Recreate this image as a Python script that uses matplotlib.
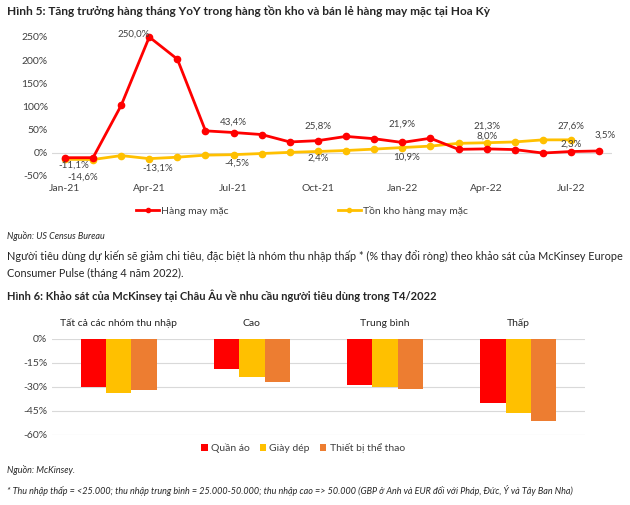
import numpy as np
import matplotlib
matplotlib.use("Agg")
from matplotlib import pyplot as plt
from matplotlib.lines import Line2D

plt.rcParams['font.family'] = ['Lato', 'DejaVu Sans']

# Hình 5 data
months = ["Jan-21", "Feb-21", "Mar-21", "Apr-21", "May-21", "Jun-21", "Jul-21",
          "Aug-21", "Sep-21", "Oct-21", "Nov-21", "Dec-21", "Jan-22", "Feb-22",
          "Mar-22", "Apr-22", "May-22", "Jun-22", "Jul-22", "Aug-22"]
apparel = [-11.1, -11, 102, 250.0, 202, 47, 43.4, 39, 23, 25.8, 35, 30,
           21.9, 31, 7, 8.0, 6.5, -1, 2.3, 3.5]
inventory = [-14.6, -15, -6.5, -13.1, -10, -5.5, -4.5, -2, 0.5, 2.4, 4.5, 7.5,
             10.9, 14, 20, 21.3, 23, 27.5, 27.6, np.nan]
apparel_labeled = [0, 3, 6, 9, 12, 15, 18, 19]
inventory_labeled = [0, 3, 6, 9, 12, 15, 18]

# Hình 6 data
groups = ["Tất cả các nhóm thu nhập", "Cao", "Trung bình", "Thấp"]
clothes = [-30, -19, -29, -40]
shoes = [-34, -24, -30, -46]
sports = [-32, -27, -31, -51]

W, H = 630, 505
fig = plt.figure(figsize=(6.3, 5.05), dpi=100)


def rect(x0, y0, x1, y1):
    return [x0 / W, 1 - y1 / H, (x1 - x0) / W, (y1 - y0) / H]


def fmt(v):
    return ("%.1f%%" % v).replace(".", ",")


txt = "#262626"
lab = "#404040"

fig.text(7 / W, 1 - 11 / H, "Hình 5: Tăng trưởng hàng tháng YoY trong hàng tồn kho và bán lẻ hàng may mặc tại Hoa Kỳ",
         fontsize=8.6, fontweight="bold", color=txt, va="center")

# line chart
ax = fig.add_axes(rect(52, 37, 612, 175.7))
x = np.arange(len(months))
ax.axhline(0, color="#d9d9d9", lw=0.8, zorder=0)
ax.plot(x, inventory, color="#FFC000", lw=2, marker="o", ms=4.5, clip_on=False, zorder=3)
ax.plot(x, apparel, color="#FF0000", lw=2, marker="o", ms=4.5, clip_on=False, zorder=4)
ax.set_xlim(-0.46, 19.46)
ax.set_ylim(-50, 250)
ax.set_yticks(range(-50, 251, 50))
ax.set_yticklabels(["%d%%" % v for v in range(-50, 251, 50)])
ax.set_xticks(x[::3])
ax.set_xticklabels(months[::3])
ax.tick_params(length=0, labelsize=7.5, labelcolor=lab, pad=3)
ax.tick_params(axis="x", pad=6)
for s in ax.spines.values():
    s.set_visible(False)

red_off = [(9, -7), (-16, 3), (0, 10), (0, 14), (0, 18), (0, 13), (0, 7), (6, 16)]
yel_off = [(18, -18), (8, -10), (3, -9), (0, -7), (4, -10), (0, 17), (0, 14)]
for i, (dx, dy) in zip(apparel_labeled, red_off):
    ax.annotate(fmt(apparel[i]), (x[i], apparel[i]), xytext=(dx, dy),
                textcoords="offset pixels", ha="center", va="center",
                fontsize=7, color=lab, zorder=5)
for i, (dx, dy) in zip(inventory_labeled, yel_off):
    ax.annotate(fmt(inventory[i]), (x[i], inventory[i]), xytext=(dx, dy),
                textcoords="offset pixels", ha="center", va="center",
                fontsize=7, color=lab, zorder=5)

handles = [Line2D([], [], color="#FF0000", lw=2, marker="o", ms=3),
           Line2D([], [], color="#FFC000", lw=2, marker="o", ms=3)]
fig.legend(handles, ["Hàng may mặc", "Tồn kho hàng may mặc"], loc="center",
           bbox_to_anchor=(302 / W, 1 - 211 / H), ncol=2, frameon=False,
           fontsize=7.5, handlelength=2.2, handletextpad=0.2, columnspacing=10.5,
           labelcolor=lab)

fig.text(7 / W, 1 - 236 / H, "Nguồn: US Census Bureau", fontsize=6.5,
         style="italic", color=txt, va="center")
fig.text(7 / W, 1 - 256 / H,
         "Người tiêu dùng dự kiến sẽ giảm chi tiêu, đặc biệt là nhóm thu nhập thấp * (% thay đổi ròng) theo khảo sát của McKinsey Europe",
         fontsize=7.8, color=txt, va="center")
fig.text(7 / W, 1 - 273 / H, "Consumer Pulse (tháng 4 năm 2022).",
         fontsize=7.8, color=txt, va="center")
fig.text(7 / W, 1 - 296 / H, "Hình 6: Khảo sát của McKinsey tại Châu Âu về nhu cầu người tiêu dùng trong T4/2022",
         fontsize=8, fontweight="bold", color=txt, va="center")

# bar chart
bx = fig.add_axes(rect(52, 339, 585, 435))
g = np.arange(len(groups))
bw = 0.19
bx.bar(g - bw, clothes, bw, color="#FF0000", label="Quần áo", zorder=2)
bx.bar(g, shoes, bw, color="#FFC000", label="Giày dép", zorder=2)
bx.bar(g + bw, sports, bw, color="#ED7D31", label="Thiết bị thể thao", zorder=2)
bx.set_xlim(-0.5, 3.5)
bx.set_ylim(-60, 0)
bx.set_yticks(range(-60, 1, 15))
bx.set_yticklabels(["%d%%" % v for v in range(-60, 1, 15)])
bx.yaxis.grid(True, color="#d9d9d9", lw=0.8, zorder=0)
bx.xaxis.tick_top()
bx.set_xticks(g)
bx.set_xticklabels(groups)
bx.tick_params(length=0, labelsize=7.5, labelcolor=lab)
bx.tick_params(axis="x", pad=8, labelcolor=txt)
for s in bx.spines.values():
    s.set_visible(False)
bx.legend(loc="center", bbox_to_anchor=(303 / W, 1 - 448 / H),
          bbox_transform=fig.transFigure, ncol=3, frameon=False, fontsize=7.5,
          handlelength=0.6, handleheight=0.6, handletextpad=0.3,
          columnspacing=1.0, labelcolor=lab)

fig.text(7 / W, 1 - 470 / H, "Nguồn: McKinsey.", fontsize=6.5,
         style="italic", color=txt, va="center")
fig.text(7 / W, 1 - 490 / H,
         "* Thu nhập thấp = <25.000; thu nhập trung bình = 25.000-50.000; thu nhập cao => 50.000 (GBP ở Anh và EUR đối với Pháp, Đức, Ý và Tây Ban Nha)",
         fontsize=6.5, style="italic", color=txt, va="center")

fig.savefig("out.png", dpi=100)
